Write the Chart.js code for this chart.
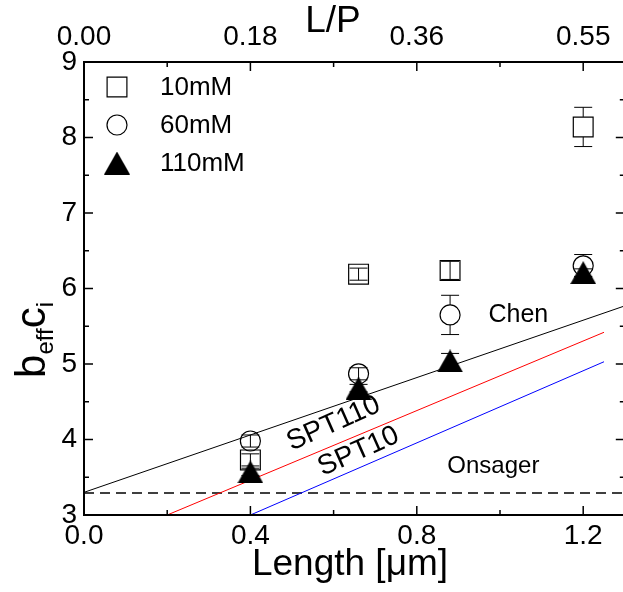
<!DOCTYPE html>
<html>
<head>
<meta charset="utf-8">
<script src="https://cdn.jsdelivr.net/npm/chart.js@4.4.1/dist/chart.umd.min.js"></script>
<style>
html, body { margin: 0; padding: 0; background: #fff; overflow: hidden; }
canvas { display: block; }
</style>
</head>
<body>
<canvas id="chart" width="640" height="592"></canvas>
<script>
// Data
const lengths = [0.4, 0.66, 0.88, 1.2];
const mM10 = [3.73, 6.19, 6.24, 8.14];
const mM10Err = [0.08, 0.08, 0.12, 0.26];
const mM60 = [3.98, 4.87, 5.65, 6.30];
const mM60Err = [0.08, 0.08, 0.26, 0.15];
const mM110 = [3.57, 4.68, 5.04, 6.21];
const mM110Err = [0.05, 0.05, 0.10, 0.05];

const chenX = [0.0, 1.3];
const chenY = [3.30, 5.77];
const spt110X = [0.2, 1.25];
const spt110Y = [3.00, 5.42];
const spt10X = [0.4, 1.25];
const spt10Y = [3.00, 5.03];
const onsagerX = [0.0, 1.3];
const onsagerY = [3.29, 3.29];

const xTicks = [0, 0.4, 0.8, 1.2];
const xMinor = [0.2, 0.6, 1.0];
const topTickLabels = ['0.00', '0.18', '0.36', '0.55'];
const yTicks = [3, 4, 5, 6, 7, 8, 9];
const yMinor = [3.5, 4.5, 5.5, 6.5, 7.5, 8.5];

const FONT = '"Liberation Sans", Arial, sans-serif';

const pts = (xs, ys) => xs.map((x, i) => ({ x: x, y: ys[i] }));

// filled triangle marker, centred on its bounding box
function makeTriangle(w, h) {
    const c = document.createElement('canvas');
    c.width = w; c.height = h;
    const g = c.getContext('2d');
    g.fillStyle = '#000';
    g.beginPath();
    g.moveTo(w / 2, 0);
    g.lineTo(w, h);
    g.lineTo(0, h);
    g.closePath();
    g.fill();
    return c;
}
const triangle = makeTriangle(26, 23);

// Frame with inward ticks on all four sides
const frame = {
    id: 'frame',
    afterDraw(chart) {
        const { ctx, chartArea: a, scales } = chart;
        const x = scales.x, y = scales.y;
        ctx.save();
        ctx.strokeStyle = '#000';
        ctx.lineWidth = 1.5;
        const tick = (x1, y1, x2, y2) => { ctx.beginPath(); ctx.moveTo(x1, y1); ctx.lineTo(x2, y2); ctx.stroke(); };
        xTicks.forEach(v => { const p = x.getPixelForValue(v); tick(p, a.bottom, p, a.bottom - 9); tick(p, a.top, p, a.top + 9); });
        xMinor.forEach(v => { const p = x.getPixelForValue(v); tick(p, a.bottom, p, a.bottom - 5); tick(p, a.top, p, a.top + 5); });
        yTicks.forEach(v => { const p = y.getPixelForValue(v); tick(a.left, p, a.left + 9, p); tick(a.right, p, a.right - 9, p); });
        yMinor.forEach(v => { const p = y.getPixelForValue(v); tick(a.left, p, a.left + 5, p); tick(a.right, p, a.right - 5, p); });
        ctx.lineWidth = 2;
        ctx.strokeRect(a.left, a.top, a.right - a.left, a.bottom - a.top);
        ctx.restore();
    }
};

// Vertical error bars with caps
const errorBars = {
    id: 'errorBars',
    afterDatasetsDraw(chart) {
        const ctx = chart.ctx;
        const ys = chart.scales.y;
        ctx.save();
        ctx.strokeStyle = '#000';
        ctx.lineWidth = 1;
        chart.data.datasets.forEach((ds, i) => {
            if (!ds.errors) return;
            chart.getDatasetMeta(i).data.forEach((pt, j) => {
                const v = ds.data[j].y, e = ds.errors[j];
                const top = ys.getPixelForValue(v + e);
                const bot = ys.getPixelForValue(v - e);
                const h = ds.half;
                ctx.beginPath();
                if (pt.y - top > h) {
                    ctx.moveTo(pt.x, pt.y - h); ctx.lineTo(pt.x, top);
                    ctx.moveTo(pt.x, pt.y + h); ctx.lineTo(pt.x, bot);
                } else {
                    ctx.moveTo(pt.x, top); ctx.lineTo(pt.x, bot);
                }
                ctx.moveTo(pt.x - 9, top); ctx.lineTo(pt.x + 9, top);
                ctx.moveTo(pt.x - 9, bot); ctx.lineTo(pt.x + 9, bot);
                ctx.stroke();
            });
        });
        ctx.restore();
    }
};

// Legend, curve labels and axis titles
const labels = {
    id: 'labels',
    afterDraw(chart) {
        const { ctx, scales } = chart;
        const x = scales.x, y = scales.y;
        ctx.save();

        // legend: 10mM, 60mM, 110mM from top
        const items = chart.data.datasets.filter(d => d.legend).reverse();
        items.forEach((d, i) => {
            const ly = 87 + i * 38;
            ctx.fillStyle = d.backgroundColor || '#000';
            ctx.strokeStyle = '#000';
            ctx.lineWidth = d.borderWidth;
            Chart.helpers.drawPoint(ctx, {
                pointStyle: d.pointStyle, radius: d.pointRadius, borderWidth: d.borderWidth, rotation: 0
            }, 117, ly);
            ctx.fillStyle = '#000';
            ctx.font = '26px ' + FONT;
            ctx.textAlign = 'left';
            ctx.textBaseline = 'middle';
            ctx.fillText(d.label, 160, ly + 1);
        });
        ctx.fillStyle = '#000';

        // curve labels
        const text = (s, vx, vy, size, angle) => {
            ctx.save();
            ctx.translate(x.getPixelForValue(vx), y.getPixelForValue(vy));
            ctx.rotate(angle * Math.PI / 180);
            ctx.font = size + 'px ' + FONT;
            ctx.textAlign = 'center';
            ctx.textBaseline = 'middle';
            ctx.fillText(s, 0, 0);
            ctx.restore();
        };
        text('Chen', 1.044, 5.65, 25, 0);
        text('SPT110', 0.60, 4.21, 28, -24);
        text('SPT10', 0.66, 3.84, 28, -24);
        text('Onsager', 0.984, 3.64, 24, 0);

        // axis titles
        ctx.textAlign = 'center';
        ctx.textBaseline = 'middle';
        ctx.font = '37px ' + FONT;
        ctx.fillText('Length [\u03bcm]', 350, 565);
        ctx.fillText('L/P', 333, 22);

        // y title: b_eff c_i
        ctx.save();
        ctx.translate(45, 340);
        ctx.rotate(-Math.PI / 2);
        ctx.textAlign = 'left';
        ctx.textBaseline = 'alphabetic';
        const big = '42px ' + FONT, small = '24px ' + FONT;
        const parts = [['b', big, 0], ['eff', small, 8], ['c', big, 0], ['i', small, 8]];
        let w = 0;
        parts.forEach(p => { ctx.font = p[1]; w += ctx.measureText(p[0]).width; });
        let cx = -w / 2;
        parts.forEach(p => {
            ctx.font = p[1];
            ctx.fillText(p[0], cx, p[2]);
            cx += ctx.measureText(p[0]).width;
        });
        ctx.restore();

        ctx.restore();
    }
};

const ctx = document.getElementById('chart').getContext('2d');
new Chart(ctx, {
    type: 'scatter',
    data: {
        datasets: [
            {
                label: '110mM', legend: true, data: pts(lengths, mM110), errors: mM110Err, half: 11,
                pointStyle: triangle, pointRadius: 12, borderWidth: 0, order: 1
            },
            {
                label: '60mM', legend: true, data: pts(lengths, mM60), errors: mM60Err, half: 10,
                pointStyle: 'circle', pointRadius: 10, borderWidth: 1.2,
                borderColor: '#000', backgroundColor: 'rgba(0,0,0,0)', order: 2
            },
            {
                label: '10mM', legend: true, data: pts(lengths, mM10), errors: mM10Err, half: 10,
                pointStyle: 'rect', pointRadius: 14, borderWidth: 1.2,
                borderColor: '#000', backgroundColor: 'rgba(0,0,0,0)', order: 3
            },
            {
                label: 'Chen', data: pts(chenX, chenY), showLine: true, pointRadius: 0,
                borderColor: '#000', borderWidth: 1, order: 4
            },
            {
                label: 'SPT110', data: pts(spt110X, spt110Y), showLine: true, pointRadius: 0,
                borderColor: '#ff0000', borderWidth: 1, order: 4
            },
            {
                label: 'SPT10', data: pts(spt10X, spt10Y), showLine: true, pointRadius: 0,
                borderColor: '#0000ff', borderWidth: 1, order: 4
            },
            {
                label: 'Onsager', data: pts(onsagerX, onsagerY), showLine: true, pointRadius: 0,
                borderColor: '#000', borderWidth: 1.5, borderDash: [10, 6], order: 4
            }
        ]
    },
    options: {
        responsive: false,
        animation: false,
        devicePixelRatio: 1,
        layout: { padding: { left: 0, right: 11, top: 0, bottom: 0 } },
        plugins: { legend: { display: false }, tooltip: { enabled: false } },
        scales: {
            x: {
                type: 'linear', position: 'bottom', min: 0, max: 1.3,
                grid: { display: false, drawTicks: false }, border: { display: false },
                afterBuildTicks: s => { s.ticks = xTicks.map(v => ({ value: v })); },
                afterFit: s => { s.height = 77; },
                ticks: {
                    padding: 4, color: '#000', font: { family: FONT, size: 28 },
                    callback: v => v.toFixed(1)
                }
            },
            x2: {
                type: 'linear', position: 'top', min: 0, max: 1.3,
                grid: { display: false, drawTicks: false }, border: { display: false },
                afterBuildTicks: s => { s.ticks = xTicks.map(v => ({ value: v })); },
                afterFit: s => { s.height = 62; },
                ticks: {
                    padding: 8, color: '#000', font: { family: FONT, size: 28 },
                    callback: (v, i) => topTickLabels[i]
                }
            },
            y: {
                type: 'linear', position: 'left', min: 3, max: 9,
                grid: { display: false, drawTicks: false }, border: { display: false },
                afterBuildTicks: s => { s.ticks = yTicks.map(v => ({ value: v })); },
                afterFit: s => { s.width = 84; },
                ticks: {
                    padding: 7, color: '#000', font: { family: FONT, size: 28 },
                    callback: v => String(v)
                }
            }
        }
    },
    plugins: [errorBars, frame, labels]
});
</script>
</body>
</html>
